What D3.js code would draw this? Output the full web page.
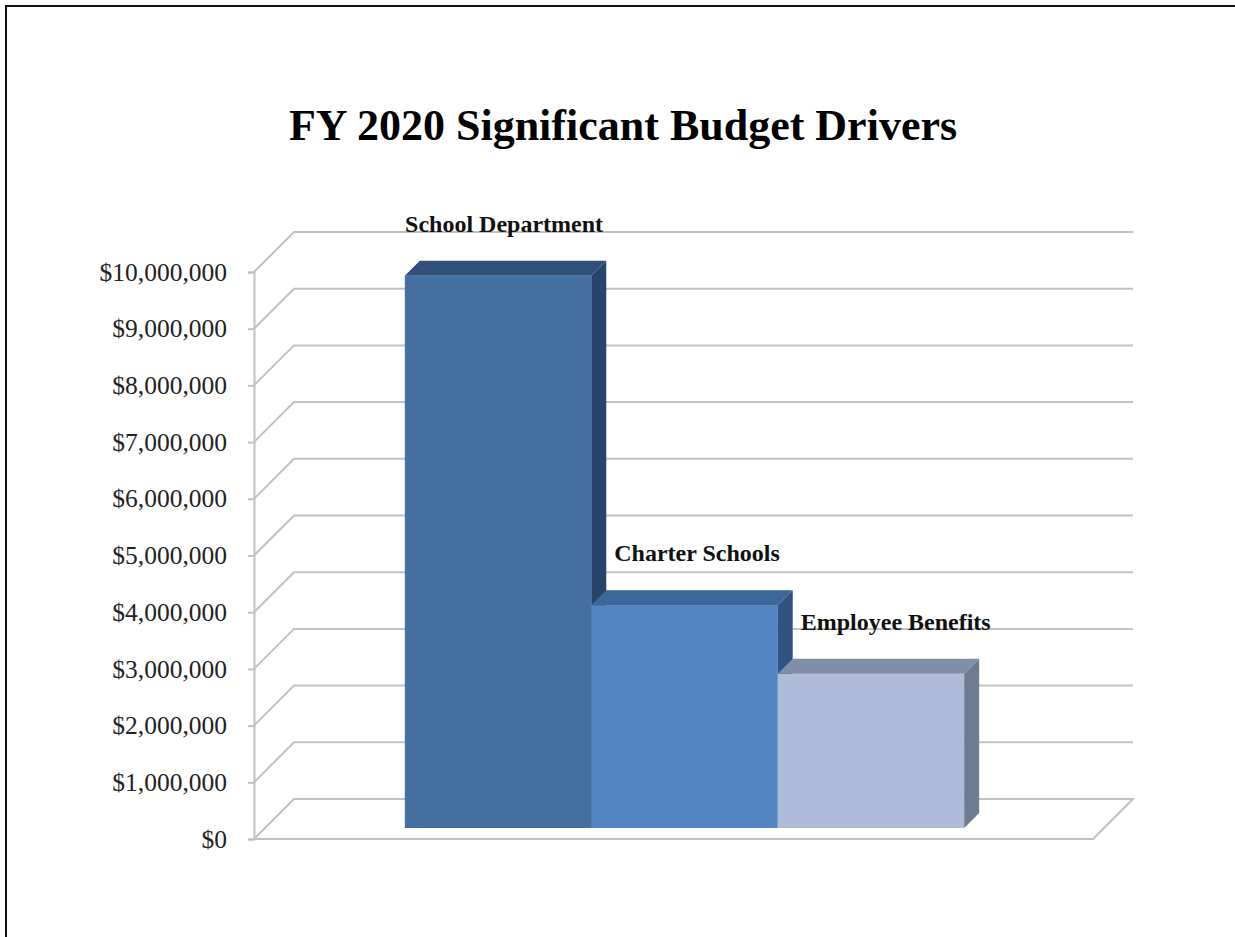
<!DOCTYPE html>
<html>
<head>
<meta charset="utf-8">
<script src="https://cdn.jsdelivr.net/npm/d3@7"></script>
<style>
  html, body { margin: 0; padding: 0; background: #fff; overflow: hidden; }
  svg { display: block; }
</style>
</head>
<body>
<svg id="chart" width="1235" height="937"></svg>
<script>
// Budget drivers, FY 2020
const categories = ["School Department", "Charter Schools", "Employee Benefits"];
const amounts = [9740000, 3930000, 2720000];
const tickValues = [0, 1000000, 2000000, 3000000, 4000000, 5000000, 6000000, 7000000, 8000000, 9000000, 10000000];
const titleText = "FY 2020 Significant Budget Drivers";

// face colours per bar: front, top, side
const faceColors = [
  { front: "#456EA1", top: "#30507A", side: "#28446A" },
  { front: "#5385C4", top: "#3D6699", side: "#305384" },
  { front: "#AEBCDA", top: "#808EA7", side: "#6E7C92" }
];

const serif = "'Liberation Serif', 'Times New Roman', Times, serif";
const svg = d3.select("#chart");

// outer frame
svg.append("rect")
  .attr("x", 6).attr("y", 6)
  .attr("width", 1300).attr("height", 1000)
  .attr("fill", "none").attr("stroke", "#111").attr("stroke-width", 2);

// title
svg.append("text")
  .attr("x", 623).attr("y", 140)
  .attr("text-anchor", "middle")
  .attr("font-family", serif)
  .attr("font-weight", "bold")
  .attr("font-size", 44)
  .attr("fill", "#000")
  .text(titleText);

// oblique 3D frame: front plane plus a depth offset
const left = 254, right = 1093;
const depth = 40;               // floor depth (px, along 45deg)
const barZ0 = 11, barZ1 = 26;   // bar front / back depth

const y = d3.scaleLinear().domain([0, 10000000]).range([839, 272]);
const x = d3.scaleBand().domain(categories).range([left, right])
  .paddingInner(0).paddingOuter(0.75);

const gridColor = "#C2C2C2";
const grid = svg.append("g").attr("fill", "none")
  .attr("stroke", gridColor).attr("stroke-width", 2);

// floor
grid.append("path")
  .attr("d", `M${left},${y(0)} L${right},${y(0)} L${right + depth},${y(0) - depth} L${left + depth},${y(0) - depth} Z`);

// gridlines on back wall with diagonal on the side wall
tickValues.forEach(v => {
  if (v === 0) return;
  grid.append("path")
    .attr("d", `M${left},${y(v)} L${left + depth},${y(v) - depth} L${right + depth},${y(v) - depth}`);
});

// value axis (front edge of side wall) with ticks and labels
const fmt = v => "$" + d3.format(",")(v);
const axis = d3.axisLeft(y).tickValues(tickValues).tickFormat(fmt).tickSize(6).tickPadding(21);
const axisG = svg.append("g").attr("transform", `translate(${left},0)`).call(axis);
axisG.select(".domain").attr("stroke", gridColor).attr("stroke-width", 2);
axisG.selectAll(".tick line").attr("stroke", gridColor).attr("stroke-width", 2);
axisG.selectAll(".tick text")
  .attr("font-family", serif)
  .attr("font-size", 25.5)
  .attr("fill", "#222");

// bars
const bars = svg.append("g");
const bw = x.bandwidth();
const dz = barZ1 - barZ0;
categories.forEach((c, i) => {
  const x0 = x(c) + barZ0, x1 = x0 + bw;
  const yb = y(0) - barZ0, yt = y(amounts[i]) - barZ0;
  const col = faceColors[i];
  const g = bars.append("g");
  g.append("rect").attr("x", x0).attr("y", yt).attr("width", bw).attr("height", yb - yt)
    .attr("fill", col.front);
  g.append("path")
    .attr("d", `M${x0},${yt} L${x1},${yt} L${x1 + dz},${yt - dz} L${x0 + dz},${yt - dz} Z`)
    .attr("fill", col.top);
  g.append("path")
    .attr("d", `M${x1},${yt} L${x1 + dz},${yt - dz} L${x1 + dz},${yb - dz} L${x1},${yb} Z`)
    .attr("fill", col.side);
});

// data labels above each bar, nudged clear of the previous bar's side
let prevRight = -Infinity;
categories.forEach((c, i) => {
  const xc = x(c) + barZ0 + bw / 2 + 6;
  const ytop = y(amounts[i]) - barZ1;
  const t = svg.append("text")
    .attr("y", ytop - 29)
    .attr("font-family", serif)
    .attr("font-weight", "bold")
    .attr("font-size", 24)
    .attr("fill", "#111")
    .text(c);
  const w = t.node().getComputedTextLength();
  const start = Math.max(xc - w / 2, prevRight + 8);
  t.attr("x", start);
  prevRight = x(c) + barZ0 + bw + dz;
});
</script>
</body>
</html>
